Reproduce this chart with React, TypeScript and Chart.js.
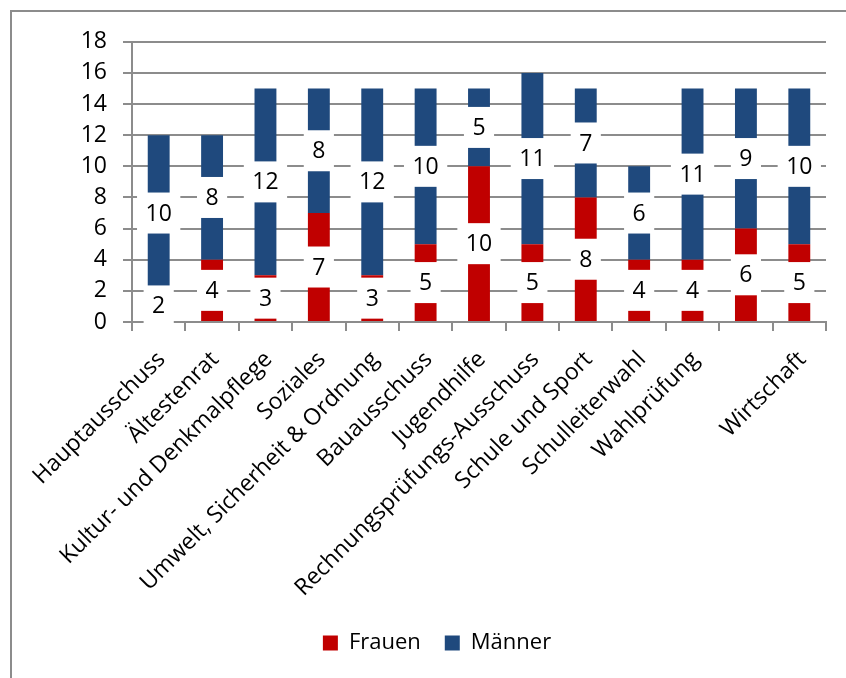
import React, { useEffect, useRef } from "react";
import Chart from "chart.js/auto";

const categories = [
  "Hauptausschuss",
  "Ältestenrat",
  "Kultur- und Denkmalpflege",
  "Soziales",
  "Umwelt, Sicherheit & Ordnung",
  "Bauausschuss",
  "Jugendhilfe",
  "Rechnungsprüfungs-Ausschuss",
  "Schule und Sport",
  "Schulleiterwahl",
  "Wahlprüfung",
  "",
  "Wirtschaft",
];
const frauen = [2, 4, 3, 7, 3, 5, 10, 5, 8, 4, 4, 6, 5];
const maenner = [10, 8, 12, 8, 12, 10, 5, 11, 7, 6, 11, 9, 10];
const yMin = 0;
const yMax = 18;
const yStep = 2;

const FONT = '"Open Sans", sans-serif';
const GRID = "#8c8c8c";

// white boxed value labels in the middle of each segment
const boxLabels = {
  id: "boxLabels",
  afterDatasetsDraw(chart: any) {
    const ctx = chart.ctx;
    ctx.save();
    ctx.font = `23px ${FONT}`;
    ctx.textAlign = "center";
    ctx.textBaseline = "middle";
    chart.data.datasets.forEach((ds: any, di: number) => {
      const meta = chart.getDatasetMeta(di);
      meta.data.forEach((bar: any, i: number) => {
        const text = String(ds.data[i]);
        const { x, y, base } = bar.getProps(["x", "y", "base"], true);
        const cy = (y + base) / 2;
        const w = ctx.measureText(text).width + 17;
        const h = 41;
        ctx.fillStyle = "#ffffff";
        ctx.fillRect(x - w / 2, cy - h / 2, w, h);
        ctx.fillStyle = "#000000";
        ctx.fillText(text, x, cy + 1);
      });
    });
    ctx.restore();
  },
};

const App: React.FC = () => {
  const canvasRef = useRef<HTMLCanvasElement | null>(null);
  const chartRef = useRef<Chart | null>(null);

  useEffect(() => {
    const ctx = canvasRef.current?.getContext("2d");
    if (!ctx) return;
    if (chartRef.current) chartRef.current.destroy();

    chartRef.current = new Chart(ctx, {
      type: "bar",
      data: {
        labels: categories,
        datasets: [
          {
            label: "Frauen",
            data: frauen,
            backgroundColor: "#C00000",
            borderWidth: 0,
            barPercentage: 0.41,
            categoryPercentage: 1,
          },
          {
            label: "Männer",
            data: maenner,
            backgroundColor: "#1F497D",
            borderWidth: 0,
            barPercentage: 0.41,
            categoryPercentage: 1,
          },
        ],
      },
      options: {
        responsive: true,
        maintainAspectRatio: false,
        animation: false,
        layout: { padding: { left: 0, top: 28, right: 0, bottom: 38 } },
        plugins: {
          tooltip: { enabled: false },
          legend: {
            position: "bottom",
            labels: {
              color: "#000",
              font: { family: FONT, size: 22 },
              boxWidth: 15,
              boxHeight: 15,
              padding: 24,
            },
          },
        },
        scales: {
          x: {
            stacked: true,
            grid: {
              display: true,
              drawOnChartArea: false,
              drawTicks: true,
              tickLength: 9,
              color: GRID,
              lineWidth: 2,
              offset: true,
            },
            border: { display: true, color: GRID, width: 2 },
            ticks: {
              color: "#000",
              font: { family: FONT, size: 23 },
              minRotation: 45,
              maxRotation: 45,
              autoSkip: false,
              padding: 15,
              labelOffset: 3,
            },
            afterFit: (s: any) => {
              s.height = 286;
            },
          },
          y: {
            stacked: true,
            min: yMin,
            max: yMax,
            ticks: {
              stepSize: yStep,
              color: "#000",
              font: { family: FONT, size: 23 },
              padding: 16,
            },
            grid: { color: GRID, lineWidth: 2, tickLength: 9 },
            border: { color: GRID, width: 2 },
            afterFit: (s: any) => {
              s.width = 120;
            },
          },
          // empty right-hand space, keeps the legend centred on the whole frame
          yRight: {
            position: "right",
            min: yMin,
            max: yMax,
            display: true,
            ticks: { display: false },
            grid: { display: false, drawOnChartArea: false },
            border: { display: false },
            afterFit: (s: any) => {
              s.width = 36;
            },
          },
        },
      },
      plugins: [boxLabels],
    });

    return () => {
      if (chartRef.current) {
        chartRef.current.destroy();
        chartRef.current = null;
      }
    };
  }, []);

  return (
    <div
      style={{
        position: "fixed",
        left: 0,
        top: 0,
        width: 846,
        height: 678,
        overflow: "hidden",
        background: "#fff",
      }}
    >
      <div
        style={{
          position: "absolute",
          left: 10,
          top: 10,
          borderLeft: `2px solid ${GRID}`,
          borderTop: `2px solid ${GRID}`,
        }}
      >
        <div style={{ position: "relative", width: 850, height: 690 }}>
          <canvas ref={canvasRef}></canvas>
        </div>
      </div>
    </div>
  );
};

export default App;
